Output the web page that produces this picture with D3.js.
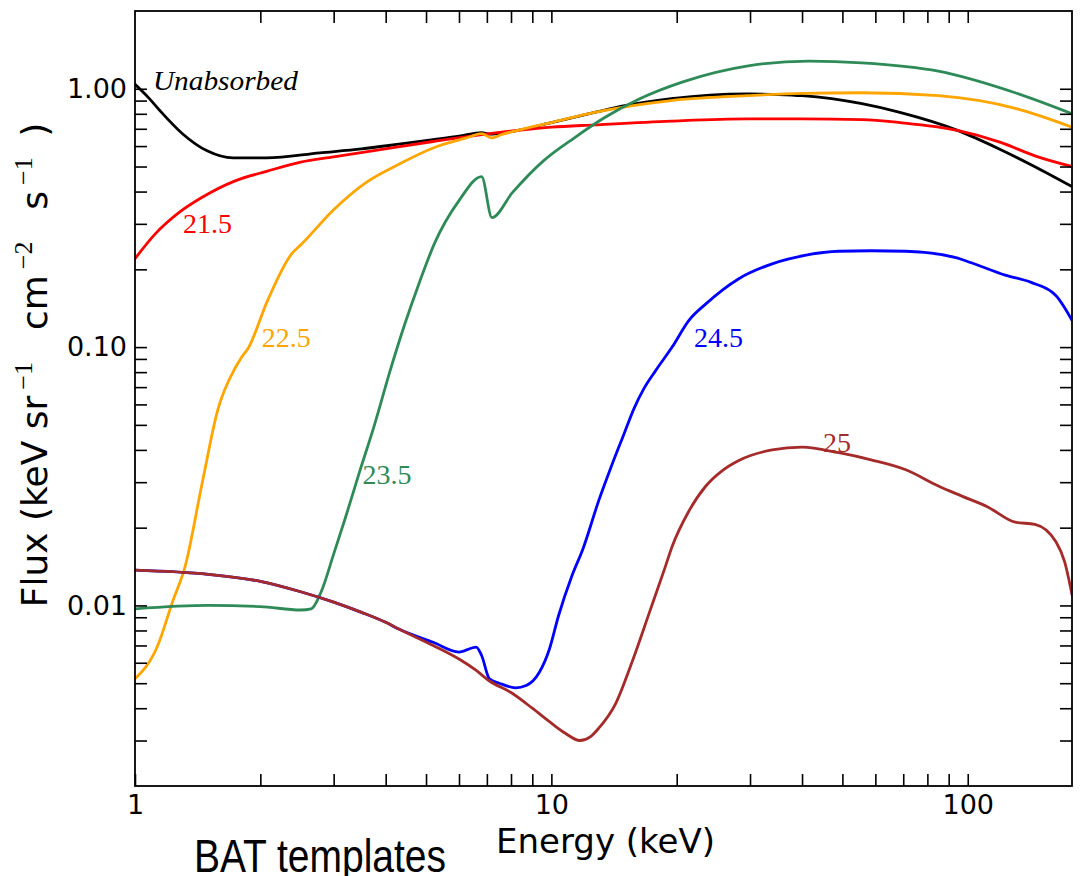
<!DOCTYPE html>
<html>
<head>
<meta charset="utf-8">
<script src="https://cdn.jsdelivr.net/npm/d3@7"></script>
<style>
  html, body { margin: 0; padding: 0; background: #ffffff; }
  svg { display: block; }
</style>
</head>
<body>
<svg id="chart" width="1084" height="876"></svg>
<script>
// ---------------- data (energy in keV, flux) ----------------
const unabsE = [1, 1.08, 1.15, 1.3, 1.49, 1.72, 2.07, 2.78, 3.5, 4.3, 5.2, 6.0, 6.8, 7.1, 7.4, 8.3, 10, 12.7, 15, 19.4, 24, 29.5, 35, 40, 55.7, 68.7, 94.5, 118.7, 145, 178];
const unabsF = [1.04, 0.92, 0.82, 0.67, 0.575, 0.54, 0.54, 0.565, 0.585, 0.61, 0.635, 0.655, 0.677, 0.667, 0.67, 0.69, 0.74, 0.81, 0.86, 0.915, 0.945, 0.955, 0.95, 0.94, 0.875, 0.81, 0.69, 0.586, 0.499, 0.418];

const nh215E = [1, 1.12, 1.27, 1.45, 1.74, 2.08, 2.5, 3.0, 4.4, 5.2, 6.8, 8.3, 10, 12.7, 19.4, 29.5, 40, 55.7, 68.7, 94.5, 120, 145, 178];
const nh215F = [0.22, 0.275, 0.33, 0.38, 0.44, 0.48, 0.52, 0.545, 0.6, 0.625, 0.665, 0.69, 0.71, 0.725, 0.75, 0.765, 0.765, 0.76, 0.74, 0.69, 0.62, 0.55, 0.50];

const nh225E = [1, 1.13, 1.23, 1.32, 1.45, 1.58, 1.74, 1.80, 1.87, 2.08, 2.38, 2.51, 3.0, 3.6, 4.3, 5.2, 6.25, 6.8, 7.2, 7.6, 8.3, 10, 12.7, 19.4, 29.5, 40, 55.7, 85, 130, 178];
const nh225F = [0.0052, 0.0069, 0.0103, 0.0142, 0.0298, 0.057, 0.083, 0.091, 0.099, 0.151, 0.23, 0.25, 0.34, 0.435, 0.51, 0.59, 0.645, 0.67, 0.645, 0.665, 0.69, 0.74, 0.81, 0.90, 0.94, 0.96, 0.965, 0.94, 0.84, 0.71];

const nh235E = [1, 1.5, 2.0, 2.5, 2.65, 2.8, 3.0, 3.2, 3.46, 3.76, 4.09, 4.44, 4.82, 5.24, 6.0, 6.8, 7.2, 8.06, 9.57, 11.36, 13.4, 16.3, 20.7, 29.7, 41.5, 55.7, 85, 130, 178];
const nh235F = [0.0097, 0.0100, 0.0099, 0.0096, 0.0097, 0.0113, 0.0158, 0.0218, 0.0328, 0.050, 0.080, 0.122, 0.178, 0.252, 0.369, 0.457, 0.317, 0.396, 0.526, 0.646, 0.772, 0.915, 1.064, 1.227, 1.28, 1.26, 1.17, 0.965, 0.80];

const nh245E = [1, 1.5, 2, 2.5, 3, 3.5, 4, 4.3, 5.2, 6.0, 6.6, 6.8, 7.1, 7.5, 8.2, 8.7, 9.35, 9.9, 10.4, 11.2, 11.9, 13.0, 13.9, 14.96, 15.79, 16.68, 17.8, 19.5, 21.4, 23.5, 28.2, 33.9, 40.9, 49, 58.6, 71, 93.6, 102, 123, 142, 163, 178];
const nh245F = [0.0137, 0.0132, 0.0124, 0.0113, 0.0103, 0.0094, 0.0086, 0.0081, 0.0072, 0.0066, 0.0069, 0.0064, 0.0052, 0.0050, 0.0048, 0.0049, 0.0055, 0.0068, 0.0091, 0.013, 0.0165, 0.0255, 0.0342, 0.0463, 0.0578, 0.0691, 0.0811, 0.1, 0.127, 0.147, 0.184, 0.21, 0.227, 0.235, 0.236, 0.235, 0.222, 0.212, 0.19, 0.178, 0.158, 0.127];

const nh25E = [1, 1.5, 2, 2.5, 3, 3.5, 4, 4.3, 5.2, 6.0, 6.6, 7.1, 8, 9.0, 10, 10.8, 11.7, 12.4, 13.0, 14.3, 15.6, 17.2, 18.8, 19.5, 21.4, 23.5, 25.7, 28.2, 33.9, 40, 49, 58.6, 71, 85, 96.8, 112, 130, 145, 163, 171, 178];
const nh25F = [0.0137, 0.0132, 0.0124, 0.0113, 0.0103, 0.0094, 0.0086, 0.0081, 0.0070, 0.0062, 0.0056, 0.0051, 0.0046, 0.0040, 0.0035, 0.0032, 0.0030, 0.0031, 0.00335, 0.0042, 0.0060, 0.0094, 0.0142, 0.0169, 0.0232, 0.0290, 0.0332, 0.0364, 0.040, 0.041, 0.039, 0.0366, 0.0335, 0.029, 0.0265, 0.024, 0.021, 0.0206, 0.0176, 0.0147, 0.011];

const seriesNames  = ["Unabsorbed", "21.5", "22.5", "23.5", "24.5", "25"];
const seriesColors = ["#000000", "#ff0000", "#ffa500", "#2e8b57", "#0000ff", "#a52a2a"];
const seriesE = [unabsE, nh215E, nh225E, nh235E, nh245E, nh25E];
const seriesF = [unabsF, nh215F, nh225F, nh235F, nh245F, nh25F];

// label anchors (data units)
const labelE = [1.104, 1.304, 2.016, 3.52, 22.0, 44.9];
const labelF = [0.991, 0.277, 0.1, 0.0296, 0.1, 0.0394];

const xTickValues = [2, 3, 4, 5, 6, 7, 8, 9, 10, 20, 30, 40, 50, 60, 70, 80, 90, 100];
const xTickLabels = {1: "1", 10: "10", 100: "100"};
const yTickValues = [0.003, 0.004, 0.005, 0.006, 0.007, 0.008, 0.009, 0.01, 0.02, 0.03, 0.04, 0.05, 0.06, 0.07, 0.08, 0.09, 0.1, 0.2, 0.3, 0.4, 0.5, 0.6, 0.7, 0.8, 0.9, 1];
const yTickLabels = {0.01: "0.01", 0.1: "0.10", 1: "1.00"};

const xLabel = "Energy (keV)";
const caption = "BAT templates";

// ---------------- drawing ----------------
const svg = d3.select("#chart");
const L = 135, R = 1072, T = 11, B = 786;
const x = d3.scaleLog().domain([1, 178]).range([L, R]);
const y = d3.scaleLog().domain([0.002, 2]).range([B, T]);

const tickFont = "'DejaVu Sans', sans-serif";

svg.append("clipPath").attr("id", "clip")
  .append("rect").attr("x", L).attr("y", T).attr("width", R - L).attr("height", B - T);

const line = d3.line().x(d => x(d[0])).y(d => y(d[1])).curve(d3.curveMonotoneX);
const gLines = svg.append("g").attr("clip-path", "url(#clip)");
seriesNames.forEach((name, i) => {
  const pts = seriesE[i].map((e, j) => [e, seriesF[i][j]]);
  gLines.append("path")
    .attr("d", line(pts))
    .attr("fill", "none")
    .attr("stroke", seriesColors[i])
    .attr("stroke-width", 2.8)
    .attr("stroke-linejoin", "round")
    .attr("stroke-linecap", "round");
});

// axes (ticks inward)
const tickLen = 12;
const xb = svg.append("g").attr("transform", `translate(0,${B})`)
  .call(d3.axisBottom(x).tickValues([1].concat(xTickValues)).tickSize(-tickLen).tickPadding(9)
        .tickFormat(d => xTickLabels[d] || ""));
const xt = svg.append("g").attr("transform", `translate(0,${T})`)
  .call(d3.axisTop(x).tickValues(xTickValues).tickSize(-tickLen).tickFormat(""));
const yl = svg.append("g").attr("transform", `translate(${L},0)`)
  .call(d3.axisLeft(y).tickValues(yTickValues).tickSize(-tickLen).tickPadding(8)
        .tickFormat(d => yTickLabels[d] || ""));
const yr = svg.append("g").attr("transform", `translate(${R},0)`)
  .call(d3.axisRight(y).tickValues(yTickValues).tickSize(-tickLen).tickFormat(""));

[xb, xt, yl, yr].forEach(g => {
  g.select(".domain").remove();
  g.selectAll(".tick line").attr("stroke", "#000").attr("stroke-width", 1.6);
  g.selectAll(".tick text").attr("fill", "#000")
    .style("font-family", tickFont).style("font-size", "27px");
});

// frame
svg.append("rect").attr("x", L).attr("y", T).attr("width", R - L).attr("height", B - T)
  .attr("fill", "none").attr("stroke", "#000").attr("stroke-width", 1.8);

// curve labels
seriesNames.forEach((name, i) => {
  const t = svg.append("text")
    .attr("x", x(labelE[i])).attr("y", y(labelF[i]))
    .attr("fill", seriesColors[i])
    .style("font-family", "'Liberation Serif', 'DejaVu Serif', serif")
    .text(name);
  if (i === 0) {
    t.style("font-style", "italic").style("font-size", "27px")
     .attr("textLength", 145).attr("lengthAdjust", "spacingAndGlyphs");
  } else {
    t.style("font-size", "28px");
  }
});

// x axis label
svg.append("text")
  .attr("x", (L + R) / 2 + 2).attr("y", 853)
  .attr("text-anchor", "middle")
  .style("font-family", tickFont).style("font-size", "34px")
  .attr("fill", "#000")
  .text(xLabel);

// y axis label
const yt = svg.append("text")
  .attr("transform", "translate(47,365) rotate(-90)")
  .attr("text-anchor", "middle")
  .style("font-family", tickFont).style("font-size", "36px")
  .attr("fill", "#000");
const supFont = "'Liberation Serif', 'DejaVu Serif', serif";
const supSize = "26px";
yt.append("tspan").text("Flux (keV sr");
yt.append("tspan").attr("dy", -15).attr("dx", 6).style("font-family", supFont).style("font-size", supSize).text("\u22121");
yt.append("tspan").attr("dy", 15).attr("dx", 9).text("\u00a0 cm");
yt.append("tspan").attr("dy", -15).attr("dx", 6).style("font-family", supFont).style("font-size", supSize).text("\u22122");
yt.append("tspan").attr("dy", 15).attr("dx", 9).text("\u00a0 s");
yt.append("tspan").attr("dy", -15).attr("dx", 6).style("font-family", supFont).style("font-size", supSize).text("\u22121");
yt.append("tspan").attr("dy", 15).attr("dx", 9).text("\u00a0)");

// caption
svg.append("text")
  .attr("x", 194).attr("y", 872)
  .style("font-family", "'Liberation Sans', Arial, sans-serif").style("font-size", "46px")
  .attr("textLength", 252).attr("lengthAdjust", "spacingAndGlyphs")
  .attr("fill", "#000")
  .text(caption);
</script>
</body>
</html>
